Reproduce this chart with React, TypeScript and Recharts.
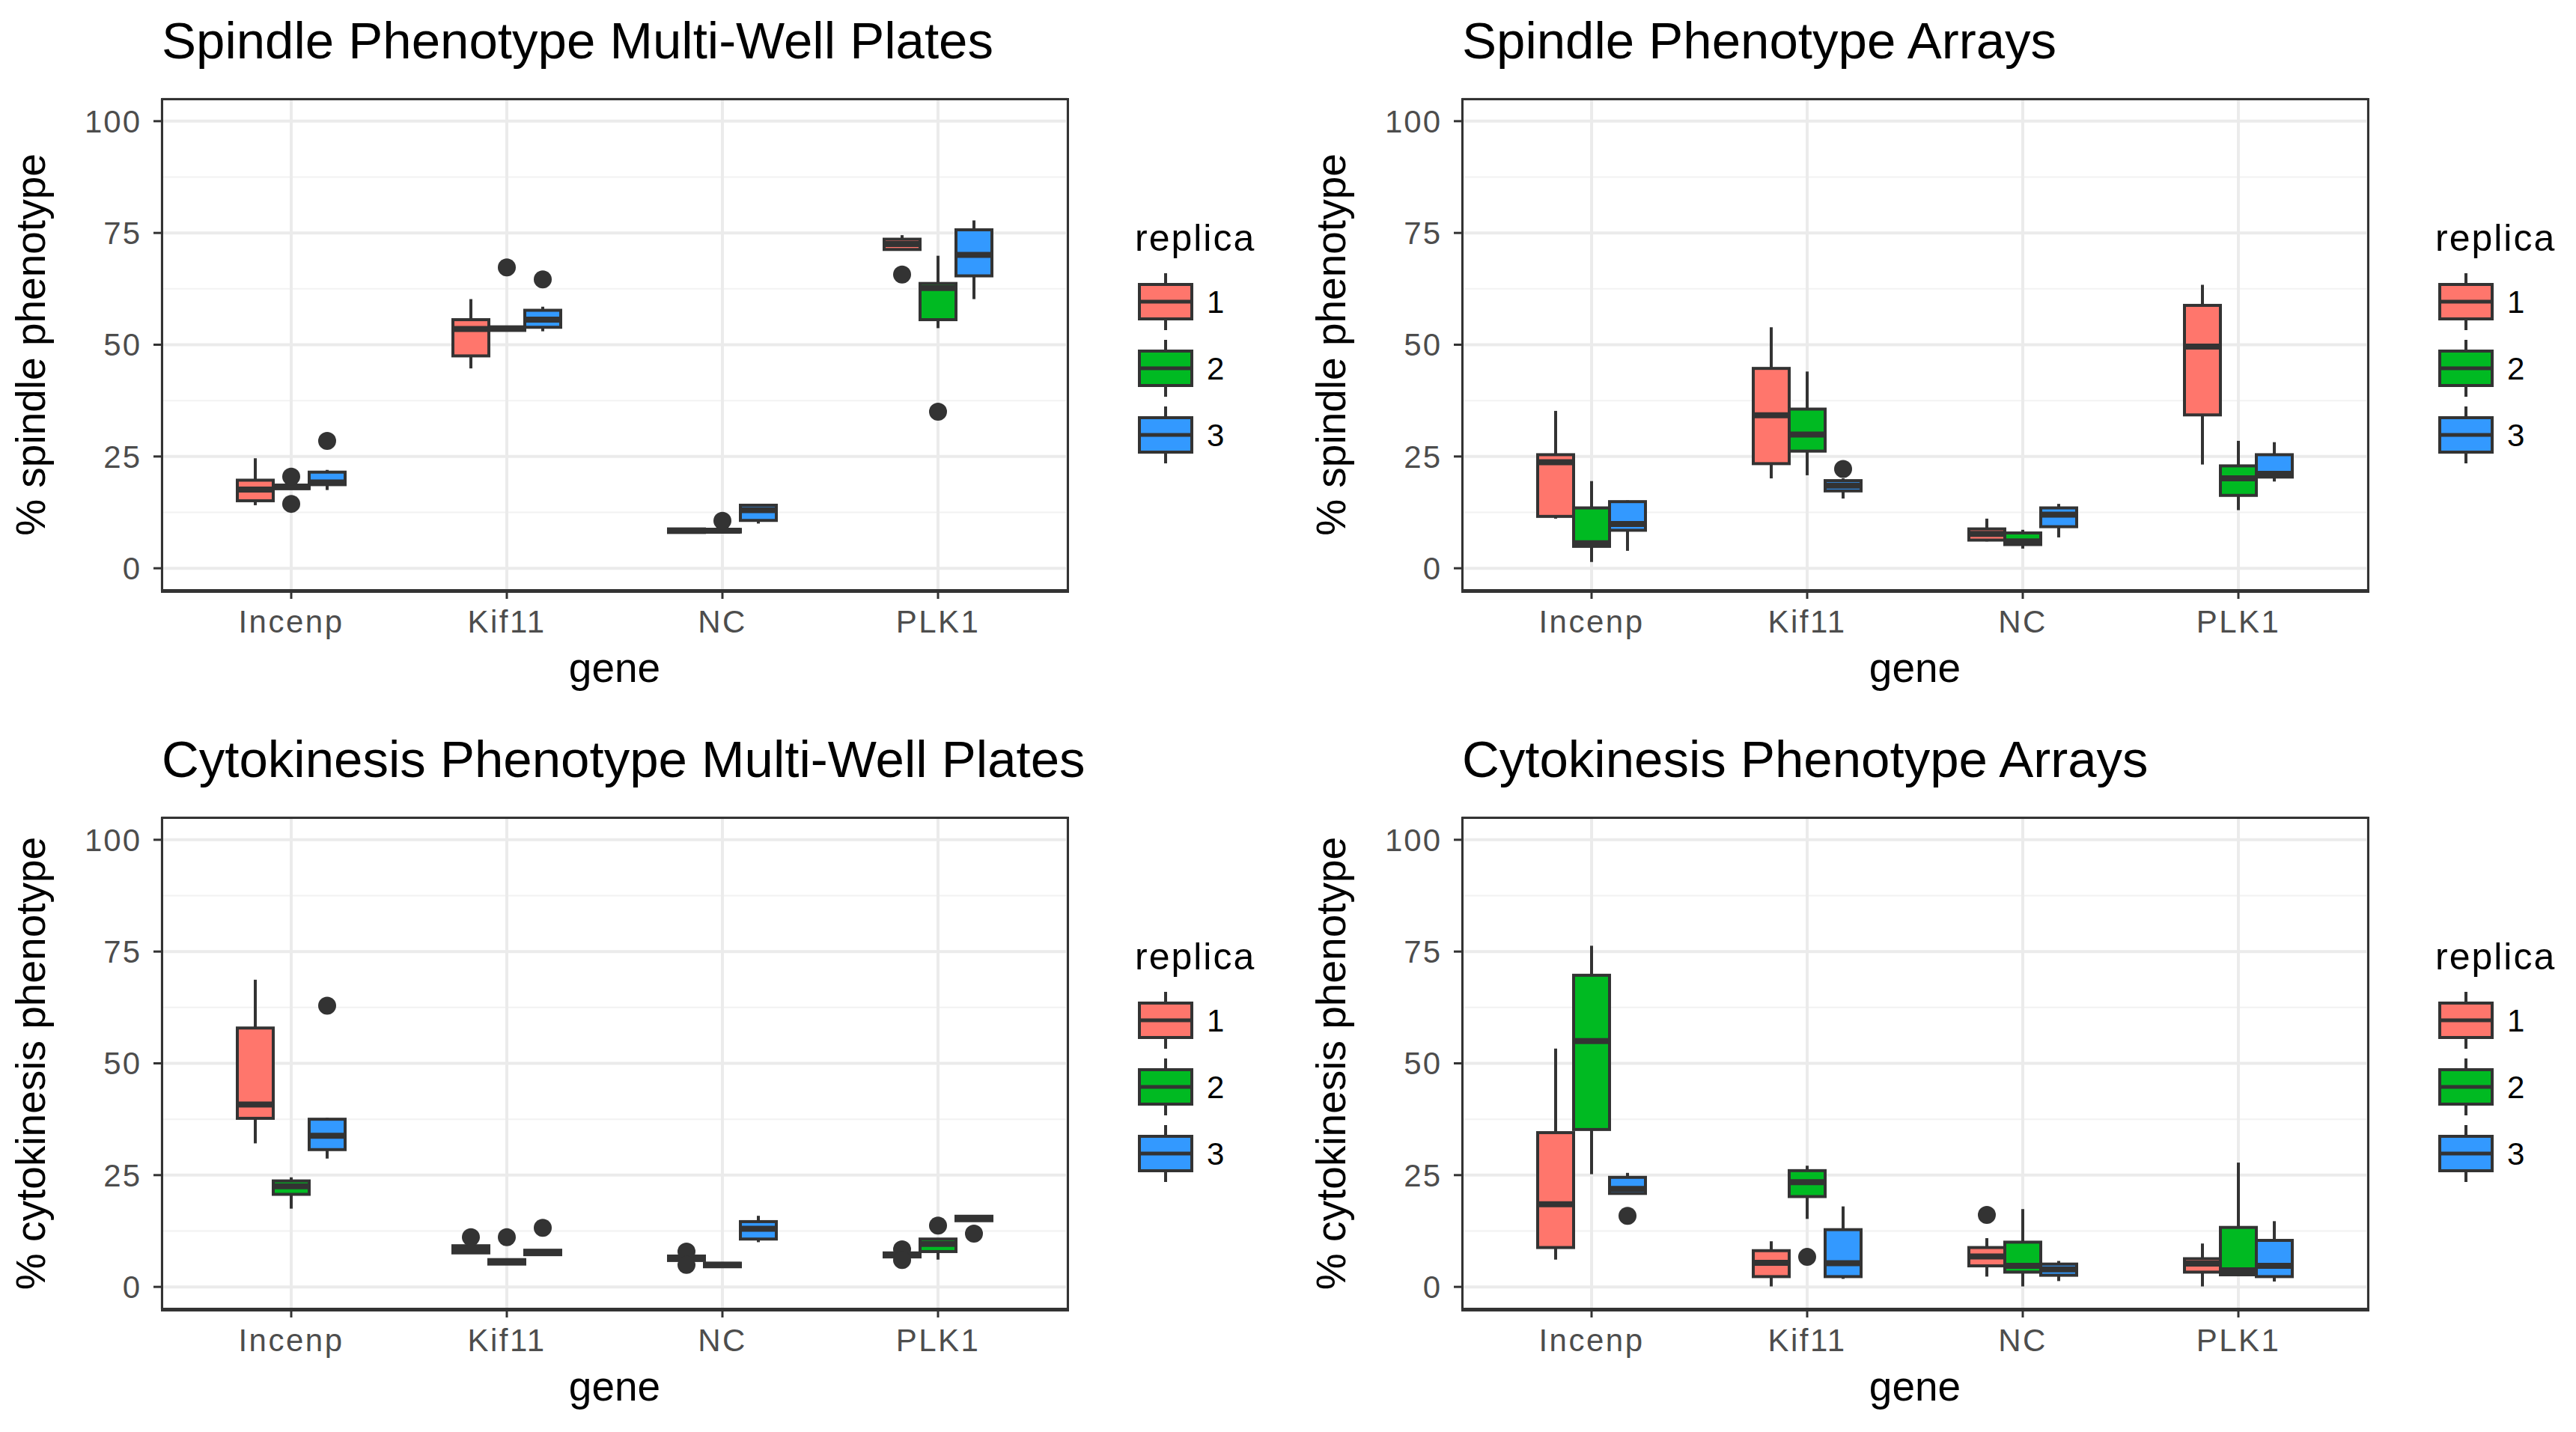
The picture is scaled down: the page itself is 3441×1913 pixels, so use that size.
import React from 'react';
import { ComposedChart, Bar, XAxis, YAxis, CartesianGrid } from 'recharts';

const genes = ['Incenp', 'Kif11', 'NC', 'PLK1'];
const replicas = ['1', '2', '3'];
const replicaColors = ['#FF766C', '#00BA22', '#3399FF'];
const yTicks = [0, 25, 50, 75, 100];
const yMinorTicks = [12.5, 37.5, 62.5, 87.5];
// every box bar spans the full value range, the box is drawn inside it
const scaleSpan = [0, 100];

// box stats per gene: [lower whisker, q1, median, q3, upper whisker]
const spindlePlatesRep1 = [[14.1, 15.1, 17.6, 19.7, 24.6], [44.7, 47.5, 53.5, 55.6, 60.2], [8.0, 8.0, 8.4, 8.8, 8.8], [71.3, 71.3, 72.5, 73.6, 74.5]];
const spindlePlatesRep2 = [[17.8, 17.8, 18.2, 18.6, 18.6], [53.2, 53.2, 53.6, 54.0, 54.0], [8.1, 8.1, 8.4, 8.7, 8.7], [53.7, 55.6, 62.7, 63.7, 69.9]];
const spindlePlatesRep3 = [[17.5, 18.7, 19.2, 21.5, 22.0], [53.0, 53.9, 55.6, 57.7, 58.5], [10.0, 10.7, 13.0, 14.1, 14.4], [60.2, 65.4, 70.1, 75.7, 77.8]];
const spindlePlatesOut1 = [[], [], [], [65.7]];
const spindlePlatesOut2 = [[20.5, 14.4], [67.3], [10.6], [35.0]];
const spindlePlatesOut3 = [[28.5], [64.6], [], []];

const spindleArraysRep1 = [[11.1, 11.6, 23.7, 25.4, 35.2], [20.1, 23.4, 34.2, 44.7, 53.9], [6.0, 6.3, 7.7, 8.8, 11.1], [23.2, 34.3, 49.6, 58.8, 63.4]];
const spindleArraysRep2 = [[1.4, 4.9, 5.6, 13.5, 19.5], [20.8, 26.2, 29.9, 35.6, 44.0], [4.4, 5.3, 6.0, 7.9, 8.6], [13.0, 16.3, 20.1, 22.9, 28.5]];
const spindleArraysRep3 = [[3.9, 8.5, 9.9, 14.9, 15.2], [15.6, 17.3, 18.5, 19.6, 20.1], [6.9, 9.3, 12.0, 13.5, 14.4], [19.4, 20.4, 21.1, 25.4, 28.2]];
const spindleArraysOut1 = [[], [], [], []];
const spindleArraysOut2 = [[], [], [], []];
const spindleArraysOut3 = [[], [22.2], [], []];

const cytoPlatesRep1 = [[32.1, 37.7, 40.8, 57.9, 68.7], [7.6, 7.6, 8.4, 9.2, 9.2], [5.9, 5.9, 6.4, 6.9, 6.9], [6.7, 6.7, 7.2, 7.6, 7.6]];
const cytoPlatesRep2 = [[17.5, 20.7, 22.5, 23.7, 24.5], [5.1, 5.1, 5.6, 6.1, 6.1], [4.5, 4.5, 4.9, 5.3, 5.3], [6.1, 7.9, 9.6, 10.7, 10.7]];
const cytoPlatesRep3 = [[28.7, 30.7, 33.8, 37.5, 37.8], [7.2, 7.2, 7.7, 8.2, 8.2], [10.0, 10.7, 13.0, 14.6, 15.9], [14.8, 14.8, 15.3, 15.8, 15.8]];
const cytoPlatesOut1 = [[], [11.1], [7.9, 4.9], [8.4, 6.0]];
const cytoPlatesOut2 = [[], [11.1], [], [13.7]];
const cytoPlatesOut3 = [[62.9], [13.2], [], [11.9]];

const cytoArraysRep1 = [[6.1, 8.8, 18.5, 34.5, 53.3], [0.1, 2.3, 5.4, 8.1, 10.2], [2.3, 4.7, 6.8, 8.8, 10.9], [0.1, 3.3, 5.2, 6.3, 9.7]];
const cytoArraysRep2 = [[25.2, 35.2, 55.0, 69.7, 76.3], [15.2, 20.2, 23.4, 26.0, 27.1], [0.1, 3.3, 4.7, 10.0, 17.4], [2.7, 2.7, 3.7, 13.3, 27.8]];
const cytoArraysRep3 = [[20.9, 20.9, 21.9, 24.5, 25.5], [1.8, 2.3, 5.3, 12.8, 18.0], [1.3, 2.6, 3.9, 5.1, 5.8], [1.2, 2.3, 4.7, 10.4, 14.7]];
const cytoArraysOut1 = [[], [], [16.1], []];
const cytoArraysOut2 = [[], [6.7], [], []];
const cytoArraysOut3 = [[15.9], [], [], []];

const FONT = '"Liberation Sans", Arial, Helvetica, sans-serif';
const INK = '#333333';

const PANEL_W = 1704;
const PANEL_H = 953;
const PLOT_LEFT = 216;
const PLOT_TOP = 132;
const PLOT_RIGHT = 1426;
const PLOT_BOTTOM = 789;
const X_AXIS_H = 140;

const buildRows = (reps: number[][][], outs: number[][][]) =>
  genes.map((gene, i) => {
    const row: any = { gene };
    reps.forEach((rep, r) => {
      row[`span${r}`] = scaleSpan;
      row[`box${r}`] = rep[i];
      row[`out${r}`] = outs[r][i];
    });
    return row;
  });

const BoxShape = (props: any) => {
  const { x, y, width, height, payload, rep, color } = props;
  const stats = payload[`box${rep}`];
  const outs: number[] = payload[`out${rep}`] || [];
  if (!stats) return null;
  const py = (v: number) => y + (height * (scaleSpan[1] - v)) / (scaleSpan[1] - scaleSpan[0]);
  const [lo, q1, med, q3, hi] = stats;
  const cx = x + width / 2;
  const top = py(q3);
  const bottom = py(q1);
  return (
    <g>
      <line x1={cx} x2={cx} y1={py(hi)} y2={top} stroke={INK} strokeWidth={4} />
      <line x1={cx} x2={cx} y1={bottom} y2={py(lo)} stroke={INK} strokeWidth={4} />
      <rect x={x} y={top} width={width} height={Math.max(bottom - top, 0.5)} fill={color} stroke={INK} strokeWidth={4} />
      <line x1={x} x2={x + width} y1={py(med)} y2={py(med)} stroke={INK} strokeWidth={8} />
      {outs.map((v, k) => (
        <circle key={k} cx={cx} cy={py(v)} r={12} fill={INK} />
      ))}
    </g>
  );
};

const ReplicaLegend = () => {
  const keyTop = [380, 469, 558];
  return (
    <svg width={220} height={360} style={{ position: 'absolute', left: 1500, top: 270, overflow: 'visible' }}>
      <text x={16} y={65} fontSize={50} letterSpacing={2} fill="#000">replica</text>
      {replicas.map((r, i) => {
        const t = keyTop[i] - 270;
        return (
          <g key={r}>
            <line x1={57} x2={57} y1={t - 15} y2={t + 61} stroke={INK} strokeWidth={4} />
            <rect x={22} y={t} width={70} height={46} fill={replicaColors[i]} stroke={INK} strokeWidth={4} />
            <line x1={22} x2={92} y1={t + 23} y2={t + 23} stroke={INK} strokeWidth={5} />
            <text x={112} y={t + 38} fontSize={42} fill="#000">{r}</text>
          </g>
        );
      })}
    </svg>
  );
};

interface PanelProps {
  title: string;
  yLabel: string;
  reps: number[][][];
  outs: number[][][];
  left: number;
  top: number;
}

const Panel: React.FC<PanelProps> = ({ title, yLabel, reps, outs, left, top }) => {
  const data = buildRows(reps, outs);
  return (
    <div style={{ position: 'absolute', left, top, width: PANEL_W, height: PANEL_H }}>
      <div style={{ position: 'absolute', left: PLOT_LEFT, top: 20, fontSize: 69, lineHeight: '69px', whiteSpace: 'nowrap', color: '#000' }}>
        {title}
      </div>
      <ComposedChart
        width={PANEL_W}
        height={PANEL_H}
        data={data}
        margin={{ top: PLOT_TOP, right: PANEL_W - PLOT_RIGHT, bottom: PANEL_H - PLOT_BOTTOM - X_AXIS_H, left: 0 }}
        barCategoryGap="25%"
        barGap={0}
        style={{ fontFamily: FONT }}
      >
        <CartesianGrid horizontalValues={yMinorTicks} vertical={false} stroke="#F2F2F2" strokeWidth={2} />
        <CartesianGrid stroke="#EBEBEB" strokeWidth={4} />
        <XAxis
          dataKey="gene"
          type="category"
          interval={0}
          height={X_AXIS_H}
          padding={{ left: 29, right: 29 }}
          axisLine={false}
          tickSize={11}
          tickMargin={15}
          tickLine={{ stroke: INK, strokeWidth: 3 }}
          tick={{ fill: '#4D4D4D', fontSize: 42, letterSpacing: 2.5 }}
          label={{ value: 'gene', position: 'insideBottom', offset: 18, fontSize: 55, fill: '#000' }}
        />
        <YAxis
          type="number"
          domain={[-5, 105]}
          ticks={yTicks}
          allowDataOverflow
          width={PLOT_LEFT}
          axisLine={false}
          tickSize={11}
          tickMargin={16}
          tickLine={{ stroke: INK, strokeWidth: 3 }}
          tick={{ fill: '#4D4D4D', fontSize: 42, letterSpacing: 2 }}
          label={{ value: yLabel, angle: -90, position: 'insideLeft', offset: 40, fontSize: 55, fill: '#000', style: { textAnchor: 'middle' } }}
        />
        {replicas.map((r, i) => (
          <Bar
            key={r}
            dataKey={`span${i}`}
            name={r}
            fill={replicaColors[i]}
            isAnimationActive={false}
            shape={(p: any) => <BoxShape {...p} rep={i} color={replicaColors[i]} />}
          />
        ))}
      </ComposedChart>
      <div
        style={{
          position: 'absolute',
          left: PLOT_LEFT - 1.5,
          top: PLOT_TOP - 1.5,
          width: PLOT_RIGHT - PLOT_LEFT + 3,
          height: PLOT_BOTTOM - PLOT_TOP + 4,
          border: `3px solid ${INK}`,
          borderBottomWidth: 5,
          boxSizing: 'border-box',
          pointerEvents: 'none',
        }}
      />
      <ReplicaLegend />
    </div>
  );
};

const App: React.FC = () => (
  <div style={{ position: 'absolute', left: 0, top: 0, width: 3441, height: 1913, background: '#fff', fontFamily: FONT, overflow: 'hidden' }}>
    <Panel
      title="Spindle Phenotype Multi-Well Plates"
      yLabel="% spindle phenotype"
      reps={[spindlePlatesRep1, spindlePlatesRep2, spindlePlatesRep3]}
      outs={[spindlePlatesOut1, spindlePlatesOut2, spindlePlatesOut3]}
      left={0}
      top={0}
    />
    <Panel
      title="Spindle Phenotype Arrays"
      yLabel="% spindle phenotype"
      reps={[spindleArraysRep1, spindleArraysRep2, spindleArraysRep3]}
      outs={[spindleArraysOut1, spindleArraysOut2, spindleArraysOut3]}
      left={1737}
      top={0}
    />
    <Panel
      title="Cytokinesis Phenotype Multi-Well Plates"
      yLabel="% cytokinesis phenotype"
      reps={[cytoPlatesRep1, cytoPlatesRep2, cytoPlatesRep3]}
      outs={[cytoPlatesOut1, cytoPlatesOut2, cytoPlatesOut3]}
      left={0}
      top={960}
    />
    <Panel
      title="Cytokinesis Phenotype Arrays"
      yLabel="% cytokinesis phenotype"
      reps={[cytoArraysRep1, cytoArraysRep2, cytoArraysRep3]}
      outs={[cytoArraysOut1, cytoArraysOut2, cytoArraysOut3]}
      left={1737}
      top={960}
    />
  </div>
);

export default App;
